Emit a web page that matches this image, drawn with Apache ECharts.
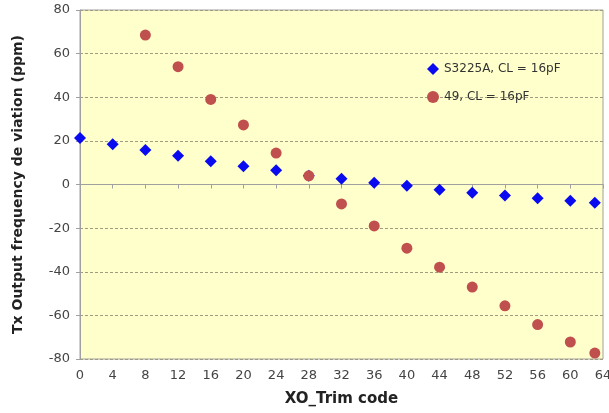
<!DOCTYPE html>
<html><head><meta charset="utf-8">
<script src="https://cdn.jsdelivr.net/npm/echarts@6/dist/echarts.min.js"></script>
<style>html,body{margin:0;padding:0;background:#fff}#c{width:609px;height:413px}</style>
</head><body><div id="c"></div>
<script>
var trimCodes = [0,4,8,12,16,20,24,28,32,36,40,44,48,52,56,60,63];
var s3225a = [21.3,18.4,15.8,13.2,10.7,8.4,6.5,4.0,2.6,0.8,-0.6,-2.4,-3.8,-5.1,-6.3,-7.4,-8.4];
var codes49 = [8,12,16,20,24,28,32,36,40,44,48,52,56,60,63];
var xtal49 = [68.5,54,39,27.3,14.4,4,-8.9,-19,-29.2,-37.9,-47,-55.6,-64.2,-72.2,-77.3];
var seriesNames = ['S3225A, CL = 16pF','49, CL = 16pF'];
var xTitle = 'XO_Trim code';
var yTitle = 'Tx Output frequency de viation (ppm)';

function pairs(xs, ys){ return xs.map(function(x,i){return [x, ys[i]];}); }

var chart = echarts.init(document.getElementById('c'));
chart.setOption({
  animation:false,
  backgroundColor:'#ffffff',
  grid:{left:80,right:6,top:10,bottom:54,show:true,containLabel:false,outerBoundsMode:'none',
        backgroundColor:'#FFFFCC',borderColor:'#A0A0A0',borderWidth:1},
  legend:{
    orient:'vertical',left:422,top:58,itemGap:16,itemWidth:12,itemHeight:12,
    textStyle:{fontFamily:'DejaVu Sans',fontSize:12,color:'#333'},
    data:[{name:seriesNames[0],icon:'diamond'},{name:seriesNames[1],icon:'circle'}]
  },
  xAxis:{
    type:'value',min:0,max:64,interval:4,
    name:xTitle,nameLocation:'middle',nameGap:33,
    nameTextStyle:{fontFamily:'DejaVu Sans',fontWeight:'bold',fontSize:15,color:'#222'},
    axisLine:{show:true,lineStyle:{color:'#A0A0A0'}},
    axisTick:{show:true,inside:false,length:4,lineStyle:{color:'#A0A0A0'}},
    axisLabel:{fontFamily:'DejaVu Sans',fontSize:13,color:'#444',margin:10},
    splitLine:{show:false}
  },
  yAxis:{
    type:'value',min:-80,max:80,interval:20,
    name:yTitle,nameLocation:'middle',nameGap:55,
    nameTextStyle:{fontFamily:'DejaVu Sans',fontWeight:'bold',fontSize:14,color:'#222'},
    axisLine:{show:true,onZero:false,lineStyle:{color:'#A0A0A0'}},
    axisTick:{show:true,inside:false,length:4,lineStyle:{color:'#A0A0A0'}},
    axisLabel:{fontFamily:'DejaVu Sans',fontSize:13,color:'#444',margin:10},
    splitLine:{show:true,lineStyle:{color:'#A09C80',type:[3,2],width:1}}
  },
  series:[
    {name:seriesNames[0],type:'scatter',symbol:'diamond',symbolSize:12,
     itemStyle:{color:'#0A0AF0',opacity:1},data:pairs(trimCodes,s3225a)},
    {name:seriesNames[1],type:'scatter',symbol:'circle',symbolSize:11,
     itemStyle:{color:'#C0504D',opacity:1},data:pairs(codes49,xtal49)}
  ]
});
</script></body></html>
